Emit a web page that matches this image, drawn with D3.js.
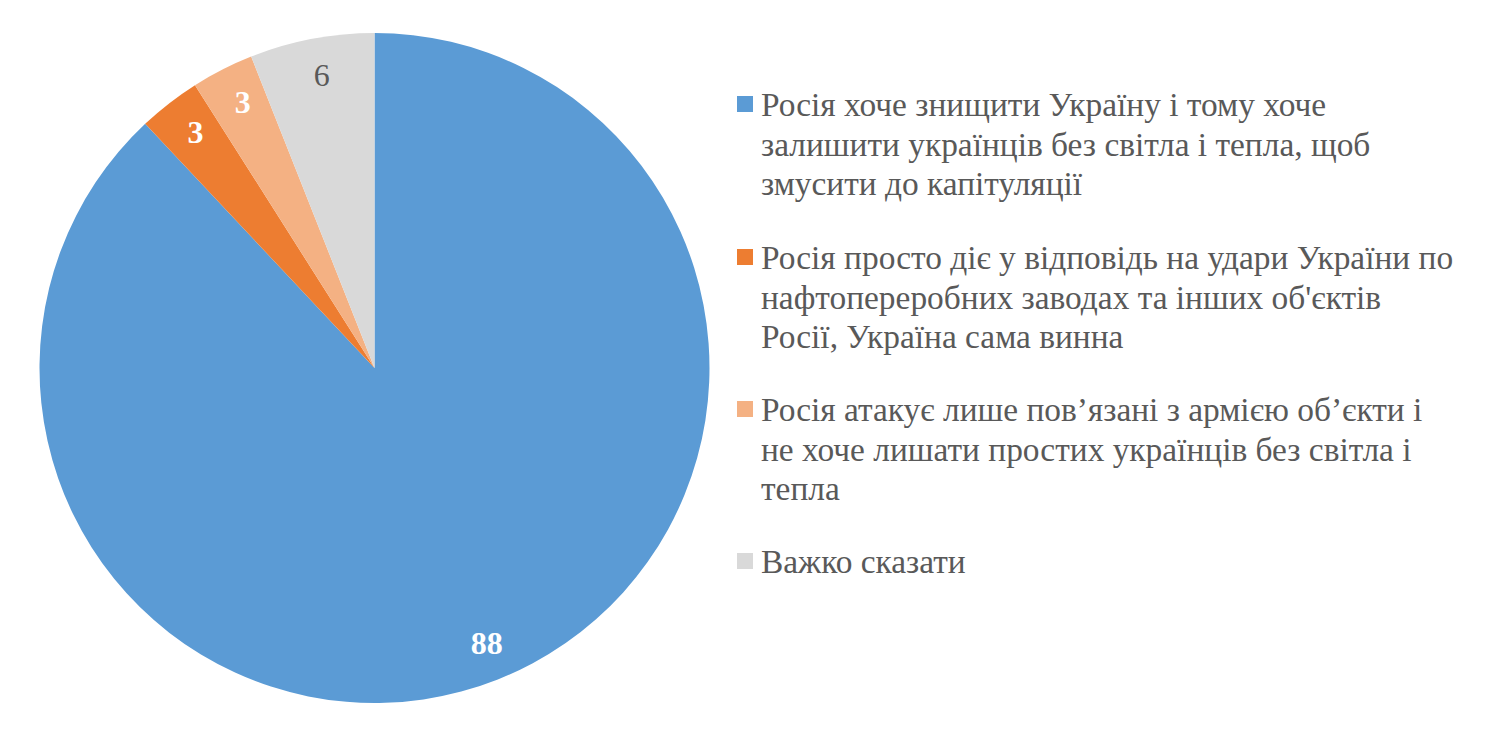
<!DOCTYPE html>
<html>
<head>
<meta charset="utf-8">
<script src="https://cdn.jsdelivr.net/npm/d3@7"></script>
<style>
  body { margin: 0; background: #fff; }
  svg { display: block; }
</style>
</head>
<body>
<div class="chartHolder"></div>
<script>
// data
const categories = [
  "Росія хоче знищити Україну і тому хоче залишити українців без світла і тепла, щоб змусити до капітуляції",
  "Росія просто діє у відповідь на удари України по нафтопереробних заводах та інших об'єктів Росії, Україна сама винна",
  "Росія атакує лише пов’язані з армією об’єкти і не хоче лишати простих українців без світла і тепла",
  "Важко сказати"
];
const legendLines = [
  ["Росія хоче знищити Україну і тому хоче", "залишити українців без світла і тепла, щоб", "змусити до капітуляції"],
  ["Росія просто діє у відповідь на удари України по", "нафтопереробних заводах та інших об'єктів", "Росії, Україна сама винна"],
  ["Росія атакує лише пов’язані з армією об’єкти і", "не хоче лишати простих українців без світла і", "тепла"],
  ["Важко сказати"]
];
const values = [88, 3, 3, 6];
const colors = ["#5B9BD5", "#ED7D31", "#F4B183", "#D9D9D9"];
const labelColors = ["#fff", "#fff", "#fff", "#595959"];
const labelWeights = ["bold", "bold", "bold", "normal"];

// layout
const width = 1500;
const height = 745;
const cx = 374.5, cy = 368, radius = 335;
const fontFamily = "'Liberation Serif', 'Times New Roman', serif";

let svg = d3.select(".chartHolder")
  .append("svg")
  .attr("width", width)
  .attr("height", height);

// pie
let pie = d3.pie().sort(null).value(d => d);
let arcs = pie(values);

let arc = d3.arc().innerRadius(0).outerRadius(radius);
let labelArc = d3.arc().innerRadius(297).outerRadius(297);

let g = svg.append("g").attr("transform", `translate(${cx}, ${cy})`);

g.selectAll("path")
  .data(arcs)
  .enter()
  .append("path")
  .attr("d", arc)
  .attr("fill", (d, i) => colors[i]);

g.selectAll("text")
  .data(arcs)
  .enter()
  .append("text")
  .attr("transform", d => `translate(${labelArc.centroid(d)})`)
  .attr("text-anchor", "middle")
  .attr("dx", 3)
  .attr("dy", "0.30em")
  .style("font-family", fontFamily)
  .style("font-size", "32px")
  .style("font-weight", (d, i) => labelWeights[i])
  .style("fill", (d, i) => labelColors[i])
  .text(d => d.data);

// legend: baseline of first line of each entry
const legendBaseline = [116, 269, 421, 573];
const lineHeight = 39.5;

let item = svg.append("g")
  .selectAll("g")
  .data(categories)
  .enter()
  .append("g")
  .attr("transform", (d, i) => `translate(737, ${legendBaseline[i]})`);

item.append("rect")
  .attr("x", 0)
  .attr("y", -20)
  .attr("width", 16)
  .attr("height", 16)
  .attr("fill", (d, i) => colors[i]);

item.each(function (d, i) {
  let t = d3.select(this)
    .append("text")
    .style("font-family", fontFamily)
    .style("font-size", "33.4px")
    .style("fill", "#595959");
  legendLines[i].forEach((line, j) => {
    t.append("tspan")
      .attr("x", 24)
      .attr("y", j * lineHeight)
      .text(line);
  });
});
</script>
</body>
</html>
